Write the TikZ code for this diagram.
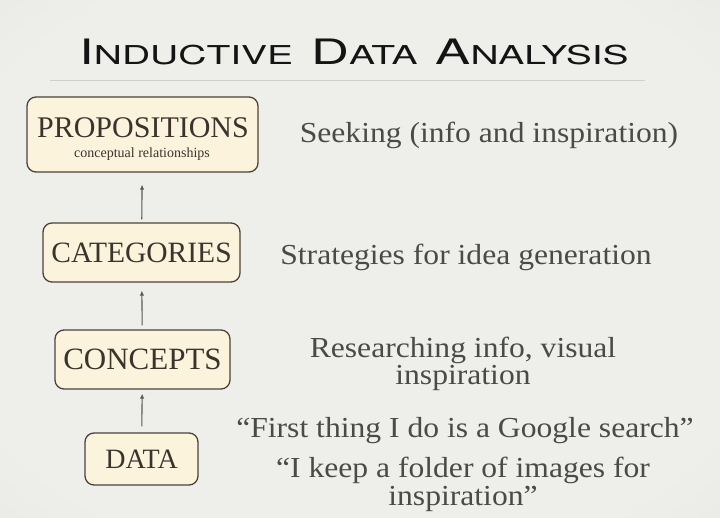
\documentclass[tikz,border=0pt]{standalone}
\usepackage{fontspec}
\setmainfont{Liberation Serif}
\newfontfamily\titlefont{TeX Gyre Heros}
\usetikzlibrary{arrows.meta}
\definecolor{bgin}{HTML}{EEEEEB}
\definecolor{bgmid}{HTML}{E2E2DF}
\definecolor{bgout}{HTML}{C2C2BE}
\definecolor{titlec}{HTML}{141414}
\definecolor{rulec}{HTML}{CFCFCB}
\definecolor{boxfill}{HTML}{FCF3DD}
\definecolor{boxline}{HTML}{4A4339}
\definecolor{boxtext}{HTML}{3A342C}
\definecolor{sidetext}{HTML}{4A4A48}
\definecolor{arrowc}{HTML}{5A5A5A}
\pgfdeclareradialshading{vignette}{\pgfpoint{0bp}{0bp}}{color(0bp)=(bgin); color(30bp)=(bgin); color(50bp)=(bgmid); color(72bp)=(bgout)}
\newcommand\tcap[2]{{\fontsize{35}{35}\selectfont #1}{\fontsize{26}{26}\selectfont #2}}
\newcommand\widen[1]{\scalebox{1.09}[1]{#1}}
\tikzset{
  boxnode/.style={draw=boxline, fill=boxfill, line width=1.3pt, rounded corners=9pt, inner sep=0pt},
  boxlabel/.style={text=boxtext, inner sep=0pt, anchor=base},
  sidetxt/.style={text=sidetext, inner sep=0pt},
  arr/.style={draw=arrowc, line width=1.1pt, -{Latex[length=5pt,width=4.5pt]}}
}
\begin{document}
\begin{tikzpicture}[x=1pt,y=-1pt]
\useasboundingbox (0,0) rectangle (720,518);
\shade[shading=vignette] (0,0) rectangle (720,518);
% title
\node[inner sep=0pt, anchor=base, text=titlec] (title) at (354,65)
  {\titlefont\scalebox{1.5}[1]{\tcap{I}{NDUCTIVE}\hspace{12pt}\tcap{D}{ATA}\hspace{12pt}\tcap{A}{NALYSIS}}};
\coordinate (ruleL) at (50,81);
\coordinate (ruleR) at (645,81);
\draw[rulec, line width=1pt] (ruleL) -- (ruleR);
% boxes
\node[boxnode, minimum width=231pt, minimum height=75pt] (prop) at (142.5,134.5) {};
\node[boxlabel, font=\fontsize{30}{30}\selectfont] (propt) at (143,138) {PROPOSITIONS};
\node[boxlabel, font=\fontsize{14}{14}\selectfont] (props) at (142,158) {conceptual relationships};
\node[boxnode, minimum width=197pt, minimum height=59pt, font=\fontsize{29.5}{29.5}\selectfont, text=boxtext] (cat) at (141.5,252.5) {CATEGORIES};
\node[boxnode, minimum width=175pt, minimum height=59pt, font=\fontsize{31}{31}\selectfont, text=boxtext] (con) at (142.5,359.5) {CONCEPTS};
\node[boxnode, minimum width=113pt, minimum height=52pt, font=\fontsize{28}{28}\selectfont, text=boxtext] (data) at (141.5,459) {DATA};
% arrows
\draw[arr, shorten <=6pt, shorten >=4pt] (data) -- (con);
\draw[arr, shorten <=4pt, shorten >=8pt] (con) -- (cat);
\draw[arr, shorten <=3pt, shorten >=12pt] (cat) -- (prop);
% side texts
\node[sidetxt, anchor=base, font=\fontsize{29}{25}\selectfont] (s1) at (489,143) {\widen{Seeking (info and inspiration)}};
\node[sidetxt, anchor=base, font=\fontsize{29}{25}\selectfont] (s2) at (466,265) {\widen{Strategies for idea generation}};
\node[sidetxt, anchor=base, font=\fontsize{29}{25}\selectfont] (s3) at (463,358) {\widen{\begin{tabular}[t]{@{}c@{}}Researching info, visual\\inspiration\end{tabular}}};
\node[sidetxt, anchor=base, font=\fontsize{29}{25}\selectfont] (s4) at (465,437) {\widen{“First thing I do is a Google search”}};
\node[sidetxt, anchor=base, font=\fontsize{29}{28}\selectfont] (s5) at (463,477) {\widen{\begin{tabular}[t]{@{}c@{}}“I keep a folder of images for\\inspiration”\end{tabular}}};
\end{tikzpicture}
\end{document}
